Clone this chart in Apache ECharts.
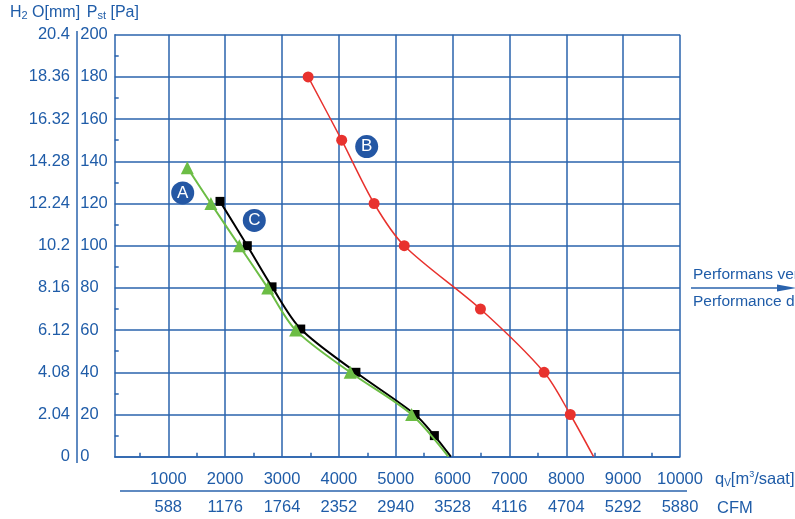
<!DOCTYPE html>
<html><head><meta charset="utf-8">
<script src="https://cdn.jsdelivr.net/npm/echarts@6/dist/echarts.min.js"></script>
<style>html,body{margin:0;padding:0;background:#fff}#c{width:795px;height:519px}</style>
</head><body><div id="c"></div>
<script>
// ---- data ----
const xMin = 58, xMax = 10000;
const xTicks = [1000, 2000, 3000, 4000, 5000, 6000, 7000, 8000, 9000, 10000];
const xMinorTicks = [500, 1500, 2500, 3500, 4500, 5500, 6500, 7500, 8500, 9500];
const cfmLabels = ['588', '1176', '1764', '2352', '2940', '3528', '4116', '4704', '5292', '5880'];
const paMin = 0, paMax = 200, paStep = 20;
const h2oLabels = ['0', '2.04', '4.08', '6.12', '8.16', '10.2', '12.24', '14.28', '16.32', '18.36', '20.4'];
// curves: [m3/h, Pa]; the last point of each curve has no marker
const curveA = [[1335, 137], [1750, 120], [2250, 100], [2750, 80], [3240, 60], [4200, 40], [5280, 20], [5925, 0]];
const curveB = [[3460, 180], [4050, 150], [4620, 120], [5150, 100], [6490, 70], [7610, 40], [8070, 20], [8480, 0]];
const curveC = [[1910, 121], [2390, 100], [2825, 80.5], [3330, 60.5], [4300, 40], [5340, 20], [5680, 10], [5970, 0]];
const tagNames = ['A', 'B', 'C'];
const tagPos = [[1254, 125], [4490, 147], [2513, 112]];

// ---- style ----
const BLUE = '#2a63ad';
const TXT = '#1f5ca8';
const FONT = '"Liberation Sans", Arial, Helvetica, sans-serif';
const FS = 16.5;

function withEnd(arr) {
  return arr.map((p, i) => i === arr.length - 1 ? { value: p, symbol: 'none' } : p);
}

const chart = echarts.init(document.getElementById('c'), null, { renderer: 'canvas' });
chart.setOption({
  animation: false,
  backgroundColor: '#fff',
  textStyle: { fontFamily: FONT },
  grid: { left: 114.7, right: 115, top: 34.7, bottom: 62.3, containLabel: false },
  xAxis: [
    {
      type: 'value', min: xMin, max: xMax,
      axisLine: { show: true, onZero: false, lineStyle: { color: BLUE, width: 1.5 } },
      axisTick: { show: false, customValues: xTicks },
      axisLabel: { customValues: xTicks, color: TXT, fontSize: FS, margin: 14, fontFamily: FONT, formatter: v => String(v) },
      splitLine: { show: true, lineStyle: { color: BLUE, width: 1.5 } }
    },
    {
      type: 'value', min: xMin, max: xMax, position: 'bottom',
      axisLine: { show: false },
      axisTick: { show: true, inside: true, length: 4, customValues: xMinorTicks, lineStyle: { color: BLUE, width: 1.5 } },
      axisLabel: { show: false },
      splitLine: { show: false }
    },
    {
      type: 'value', min: xMin, max: xMax, position: 'bottom', offset: 28.7,
      axisLine: { show: false },
      axisTick: { show: false, customValues: xTicks },
      axisLabel: {
        customValues: xTicks, color: TXT, fontSize: FS, margin: 14, fontFamily: FONT,
        formatter: v => cfmLabels[xTicks.indexOf(v)]
      },
      splitLine: { show: false }
    }
  ],
  yAxis: [
    {
      type: 'value', min: paMin, max: paMax, interval: paStep, position: 'left',
      axisLine: { show: true, onZero: false, lineStyle: { color: BLUE, width: 1.5 } },
      axisTick: { show: false, inside: true },
      minorTick: { show: true, splitNumber: 2, length: 4, lineStyle: { color: BLUE, width: 1.5 } },
      axisLabel: { color: TXT, fontSize: FS, margin: 34.5, align: 'left', fontFamily: FONT },
      splitLine: { show: true, lineStyle: { color: BLUE, width: 1.5 } }
    },
    {
      type: 'value', min: paMin, max: paMax, interval: paStep, position: 'left',
      axisLine: { show: false }, axisTick: { show: false },
      axisLabel: {
        color: TXT, fontSize: FS, margin: 44.7, align: 'right', fontFamily: FONT,
        formatter: (v) => h2oLabels[Math.round(v / paStep)]
      },
      splitLine: { show: false }
    }
  ],
  series: [
    {
      type: 'line', name: 'C', data: withEnd(curveC), smooth: 0.3,
      symbol: 'rect', symbolSize: 9, showAllSymbol: true,
      lineStyle: { color: '#000', width: 2 }, itemStyle: { color: '#000' }, z: 3
    },
    {
      type: 'line', name: 'A', data: withEnd(curveA), smooth: 0.3,
      symbol: 'triangle', symbolSize: 13, showAllSymbol: true,
      lineStyle: { color: '#6cbd45', width: 2 }, itemStyle: { color: '#6cbd45' }, z: 4
    },
    {
      type: 'line', name: 'B', data: withEnd(curveB), smooth: 0.3,
      symbol: 'circle', symbolSize: 11, showAllSymbol: true,
      lineStyle: { color: '#e8322e', width: 1.5 }, itemStyle: { color: '#e8322e' }, z: 4
    },
    {
      type: 'scatter', name: 'tags',
      data: tagPos.map((p, i) => ({ value: p, name: tagNames[i] })),
      symbol: 'circle', symbolSize: 23,
      itemStyle: { color: '#2457a4', opacity: 1 },
      label: { show: true, position: 'inside', formatter: p => p.name, color: '#fff', fontSize: 17, fontFamily: FONT },
      z: 6
    }
  ],
  graphic: [
    {
      type: 'text', left: 10, top: 5,
      style: {
        text: '{n|H}{s|2}{n| O[mm]}  {n|P}{s|st}{n| [Pa]}',
        rich: {
          n: { fontSize: 16, fill: TXT, fontFamily: FONT, verticalAlign: 'bottom', lineHeight: 18 },
          s: { fontSize: 11, fill: TXT, fontFamily: FONT, verticalAlign: 'bottom', lineHeight: 18 }
        }
      }
    },
    { type: 'line', shape: { x1: 77, y1: 31, x2: 77, y2: 463 }, style: { stroke: BLUE, lineWidth: 1.5 } },
    { type: 'line', shape: { x1: 120, y1: 491, x2: 687, y2: 491 }, style: { stroke: BLUE, lineWidth: 1.5 } },
    {
      type: 'text', x: 715, y: 479,
      style: {
        text: '{n|q}{s|V}{n|[m}{p|3}{n|/saat]}', verticalAlign: 'middle',
        rich: {
          n: { fontSize: FS, fill: TXT, fontFamily: FONT },
          s: { fontSize: 10, fill: TXT, fontFamily: FONT, padding: [8, 0, 0, 0] },
          p: { fontSize: 9, fill: TXT, fontFamily: FONT, padding: [0, 0, 8, 0] }
        }
      }
    },
    { type: 'text', x: 717, y: 508, style: { text: 'CFM', fill: TXT, fontSize: FS, fontFamily: FONT, verticalAlign: 'middle' } },
    { type: 'text', x: 693, y: 275, style: { text: 'Performans verileri', fill: TXT, fontSize: 15.5, fontFamily: FONT, verticalAlign: 'middle' } },
    { type: 'text', x: 693, y: 301.5, style: { text: 'Performance data', fill: TXT, fontSize: 15.5, fontFamily: FONT, verticalAlign: 'middle' } },
    { type: 'line', shape: { x1: 691, y1: 288, x2: 782, y2: 288 }, style: { stroke: BLUE, lineWidth: 1.5 } },
    { type: 'polygon', shape: { points: [[777, 284.5], [796, 288], [777, 291.5]] }, style: { fill: BLUE } }
  ]
});
</script>
</body></html>
